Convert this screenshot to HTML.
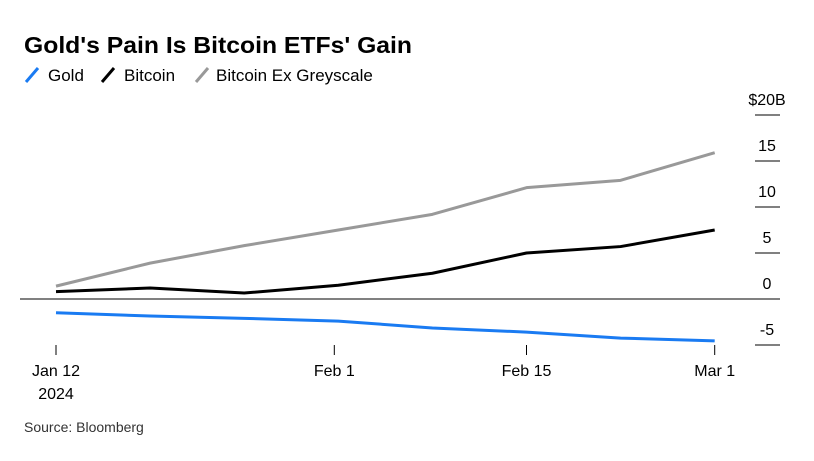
<!DOCTYPE html>
<html><head><meta charset="utf-8"><style>
body{margin:0;background:#fff;width:814px;height:456px;overflow:hidden;font-family:"Liberation Sans",Arial,sans-serif}
</style></head><body>
<svg width="814" height="456" xmlns="http://www.w3.org/2000/svg">
<text x="24" y="53" font-size="23" font-weight="bold" fill="#000" textLength="388" lengthAdjust="spacingAndGlyphs">Gold's Pain Is Bitcoin ETFs' Gain</text>
<g font-size="17" fill="#000">
<g><line x1="26" y1="82" x2="38" y2="68" stroke="#1a7bf2" stroke-width="3"/><text x="48" y="81">Gold</text></g>
<g><line x1="102" y1="82" x2="114" y2="68" stroke="#000" stroke-width="3"/><text x="124" y="81">Bitcoin</text></g>
<g><line x1="196" y1="82" x2="208" y2="68" stroke="#999" stroke-width="3"/><text x="216" y="81">Bitcoin Ex Greyscale</text></g>
</g>
<g id="axes"></g>
<g id="series"></g>
<text x="24" y="432" font-size="14" fill="#333">Source: Bloomberg</text>
</svg>
<script>
const yTicks=[20,15,10,5,0,-5];
const yTickLabels=["$20B","15","10","5","0","-5"];
const xTickIdx=[0,3,5,7];
const xTickLabels=["Jan 12","Feb 1","Feb 15","Mar 1"];
const gold=[-1.5,-1.85,-2.1,-2.4,-3.15,-3.6,-4.25,-4.55];
const bitcoin=[0.8,1.2,0.65,1.5,2.8,5.0,5.7,7.5];
const bitcoinExGreyscale=[1.4,3.9,5.8,7.5,9.2,12.1,12.9,15.9];
const NS="http://www.w3.org/2000/svg";
const xS=i=>56+i*94.1;
const yS=v=>299-v*9.2;
function mk(t,a,p){const e=document.createElementNS(NS,t);for(const k in a)e.setAttribute(k,a[k]);p.appendChild(e);return e;}
const ax=document.getElementById('axes');
yTicks.forEach((v,i)=>{
 const y=yS(v);
 if(v===0){const l=mk('line',{x1:20,x2:780,y1:y,y2:y,stroke:'#000','stroke-width':1},ax);
 
 }
 else{const l=mk('line',{x1:755,x2:780,y1:y,y2:y,stroke:'#000','stroke-width':1},ax);
 
 }
 const t=mk('text',{x:767,y:y-10,'font-size':16,'text-anchor':'middle',fill:'#000'},ax);
 t.textContent=yTickLabels[i];
 
 
});
xTickIdx.forEach((idx,i)=>{
 const x=xS(idx)+(i===1?-4:0);
 const l=mk('line',{x1:x,x2:x,y1:345,y2:355,stroke:'#000'},ax);
 
 
 const t=mk('text',{x:x,y:376,'font-size':16,'text-anchor':'middle',fill:'#000'},ax);
 t.textContent=xTickLabels[i];
 
 
});
const yr=mk('text',{x:56,y:399,'font-size':16,'text-anchor':'middle',fill:'#000'},ax);
yr.textContent="2024";


const sg=document.getElementById('series');
[[bitcoinExGreyscale,'#999','bitcoin-ex-greyscale-line'],[bitcoin,'#000','bitcoin-line'],[gold,'#1a7bf2','gold-line']].forEach(([d,c,n])=>{
 const p=mk('polyline',{points:d.map((v,i)=>xS(i)+','+yS(v)).join(' '),fill:'none',stroke:c,'stroke-width':3,'stroke-linejoin':'round'},sg);
 
 
});
</script>
</body></html>
